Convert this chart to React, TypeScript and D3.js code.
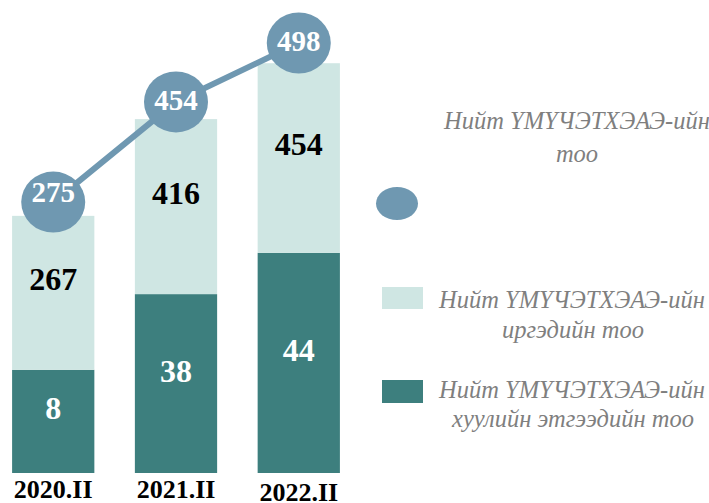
import React from "react";
import * as d3 from "d3";

// Categories and labelled values
const categories = ["2020.II", "2021.II", "2022.II"];
const legalEntities = [8, 38, 44];
const citizens = [267, 416, 454];
const totals = [275, 454, 498];

// The chart's drawn extents (its own, uneven scale)
const legalHeight = [24, 41.6, 51.2];
const citizenHeight = [35.8, 40.7, 44.1];
const totalMarker = [63, 86.3, 100];

const legendItems = [
  ["Нийт ҮМҮЧЭТХЭАЭ-ийн", "тоо"],
  ["Нийт ҮМҮЧЭТХЭАЭ-ийн", "иргэдийн тоо"],
  ["Нийт ҮМҮЧЭТХЭАЭ-ийн", "хуулийн этгээдийн тоо"],
];

const W = 709;
const H = 503;
const LIGHT = "#cfe6e3";
const DARK = "#3d7f7e";
const BLUE = "#6f98b1";
const SERIF = "'Liberation Serif', 'Times New Roman', serif";

export default function App() {
  const x = d3.scaleBand<string>().domain(categories).range([-10, 362]).paddingInner(0.33).paddingOuter(0.18);
  const y = d3.scaleLinear().domain([0, 100]).range([473, 43]);
  const bw = x.bandwidth();

  const pts: [number, number][] = categories.map((c, i) => [x(c)! + bw / 2, y(totalMarker[i])]);
  const line = d3.line()(pts) || "";

  return (
    <svg width={W} height={H} style={{ position: "absolute", left: 0, top: 0, background: "#fff" }}>
      {categories.map((c, i) => {
        const x0 = x(c)!;
        const yLegal = y(legalHeight[i]);
        const yTop = y(legalHeight[i] + citizenHeight[i]);
        const cx = x0 + bw / 2;
        return (
          <g key={c}>
            <rect x={x0} y={yLegal} width={bw} height={y(0) - yLegal} fill={DARK} />
            <rect x={x0} y={yTop} width={bw} height={yLegal - yTop} fill={LIGHT} />
            <text x={cx} y={(yLegal + yTop) / 2 - 14} textAnchor="middle" dominantBaseline="central"
              fontFamily={SERIF} fontWeight="bold" fontSize={32} fill="#000">{citizens[i]}</text>
            <text x={cx} y={(yLegal + y(0)) / 2 - 13} textAnchor="middle" dominantBaseline="central"
              fontFamily={SERIF} fontWeight="bold" fontSize={32} fill="#fff">{legalEntities[i]}</text>
            <text x={cx} y={i === 2 ? 501 : 498} textAnchor="middle"
              fontFamily={SERIF} fontWeight="bold" fontSize={26} fill="#000">{c}</text>
          </g>
        );
      })}
      <path d={line} fill="none" stroke={BLUE} strokeWidth={6} />
      {pts.map((p, i) => (
        <g key={i}>
          <ellipse cx={p[0]} cy={p[1]} rx={32} ry={30.5} fill={BLUE} />
          <text x={p[0]} y={p[1] - (i === 0 ? 10 : 2)} textAnchor="middle" dominantBaseline="central"
            fontFamily={SERIF} fontWeight="bold" fontSize={29} fill="#fff">{totals[i]}</text>
        </g>
      ))}
      {/* Legend */}
      <g fontFamily={SERIF} fontStyle="italic" fontSize={24.5} fill="#7f7f7f" textAnchor="middle">
        <text x={577} y={129}>{legendItems[0][0]}</text>
        <text x={577} y={162}>{legendItems[0][1]}</text>
        <ellipse cx={397} cy={203.5} rx={21} ry={16.5} fill={BLUE} />
        <rect x={382} y={287} width={41} height={22} fill={LIGHT} />
        <text x={572} y={308}>{legendItems[1][0]}</text>
        <text x={573} y={338}>{legendItems[1][1]}</text>
        <rect x={382} y={380} width={41} height={23} fill={DARK} />
        <text x={572} y={398}>{legendItems[2][0]}</text>
        <text x={573} y={427}>{legendItems[2][1]}</text>
      </g>
    </svg>
  );
}
